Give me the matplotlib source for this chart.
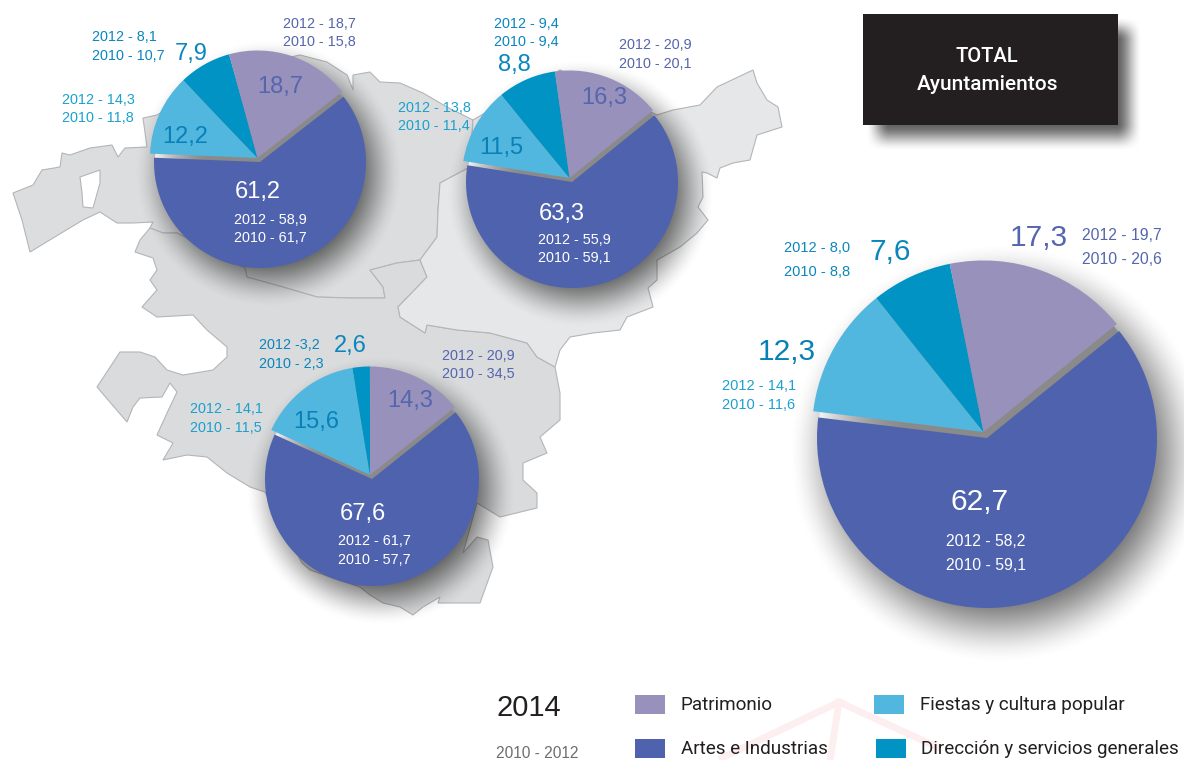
import numpy as np
import matplotlib
matplotlib.use('Agg')
import matplotlib.pyplot as plt
from matplotlib.patches import Polygon, Rectangle, Circle

W, H = 1184, 760

# datos: orden artes, fiestas, direccion, patrimonio
categorias = ['Artes e Industrias', 'Fiestas y cultura popular', 'Dirección y servicios generales', 'Patrimonio']
colores = ['#4f62ae', '#52b7de', '#0093c4', '#9891bb']

bizkaia = [61.2, 12.2, 7.9, 18.7]
gipuzkoa = [63.3, 11.5, 8.8, 16.3]
alava = [67.6, 15.6, 2.6, 14.3]
total = [62.7, 12.3, 7.6, 17.3]

bizkaia_txt = ['61,2', '12,2', '7,9', '18,7']
gipuzkoa_txt = ['63,3', '11,5', '8,8', '16,3']
alava_txt = ['67,6', '15,6', '2,6', '14,3']
total_txt = ['62,7', '12,3', '7,6', '17,3']

bizkaia_prev = [('2012 - 58,9', '2010 - 61,7'), ('2012 - 14,3', '2010 - 11,8'),
                ('2012 - 8,1', '2010 - 10,7'), ('2012 - 18,7', '2010 - 15,8')]
gipuzkoa_prev = [('2012 - 55,9', '2010 - 59,1'), ('2012 - 13,8', '2010 - 11,4'),
                 ('2012 - 9,4', '2010 - 9,4'), ('2012 - 20,9', '2010 - 20,1')]
alava_prev = [('2012 - 61,7', '2010 - 57,7'), ('2012 - 14,1', '2010 - 11,5'),
              ('2012 -3,2', '2010 - 2,3'), ('2012 - 20,9', '2010 - 34,5')]
total_prev = [('2012 - 58,2', '2010 - 59,1'), ('2012 - 14,1', '2010 - 11,6'),
              ('2012 - 8,0', '2010 - 8,8'), ('2012 - 19,7', '2010 - 20,6')]

NARROW = ['Roboto', 'Liberation Sans', 'DejaVu Sans']
plt.rcParams['font.family'] = ['Liberation Sans', 'DejaVu Sans']

fig = plt.figure(figsize=(W / 100, H / 100), dpi=100, facecolor='white')
ax = fig.add_axes([0, 0, 1, 1])


def fy(p):
    return H - p


def poly(puntos, color, z=1):
    xy = [(x, fy(y)) for x, y in puntos]
    ax.add_patch(Polygon(xy, closed=True, facecolor=color, edgecolor='#b4b5b7', lw=0.8, zorder=z))


# mapa de fondo
poly([(13, 193), (33, 185), (42, 170), (60, 167), (62, 153), (70, 155), (90, 148), (112, 145), (118, 157),
      (125, 148), (147, 147), (143, 118), (157, 115), (230, 70), (300, 55), (327, 62), (347, 75), (353, 90),
      (353, 75), (370, 72), (380, 82), (400, 83), (423, 93), (447, 107), (473, 120), (470, 167), (440, 183),
      (438, 210), (437, 237), (420, 260), (397, 263), (370, 270), (383, 287), (385, 298), (350, 298),
      (317, 297), (283, 287), (247, 277), (245, 268), (177, 233), (163, 233), (150, 228), (153, 222),
      (133, 223), (117, 223), (100, 212), (83, 220), (63, 232), (30, 252), (22, 220)], '#dcddde')
poly([(80, 177), (100, 170), (100, 183), (93, 208), (83, 207), (82, 193)], 'white', z=2)
poly([(150, 228), (140, 240), (135, 252), (153, 258), (157, 270), (150, 280), (157, 290), (142, 307),
      (157, 317), (193, 315), (207, 330), (227, 347), (227, 357), (213, 370), (183, 375), (167, 370),
      (155, 357), (140, 352), (120, 352), (97, 387), (127, 422), (133, 407), (140, 398), (162, 397),
      (170, 383), (177, 392), (167, 413), (157, 435), (173, 443), (163, 460), (187, 455), (207, 457),
      (227, 473), (250, 487), (265, 492), (302, 563), (310, 570), (360, 587), (370, 595), (383, 603),
      (400, 607), (413, 615), (423, 607), (440, 597), (438, 603), (480, 603), (493, 567), (488, 540),
      (477, 537), (463, 553), (477, 503), (500, 517), (537, 508), (537, 493), (523, 480), (523, 463),
      (547, 453), (540, 437), (560, 420), (560, 393), (555, 367), (537, 357), (527, 343), (490, 333),
      (457, 330), (427, 325), (425, 333), (400, 317), (398, 307), (427, 277), (420, 260), (397, 263),
      (370, 270), (383, 287), (385, 298), (350, 298), (317, 297), (283, 287), (247, 277), (245, 268),
      (177, 233), (163, 233)], '#dadbdc')
poly([(420, 260), (437, 237), (438, 210), (440, 183), (470, 167), (473, 120), (560, 70), (657, 115),
      (673, 110), (700, 105), (717, 87), (753, 70), (757, 83), (767, 100), (778, 107), (782, 127),
      (757, 135), (750, 160), (733, 163), (720, 168), (717, 178), (707, 173), (702, 172), (703, 197),
      (698, 207), (708, 220), (697, 233), (680, 247), (657, 260), (657, 280), (648, 288), (653, 307),
      (627, 317), (620, 330), (593, 333), (570, 337), (560, 350), (555, 367), (537, 357), (527, 343),
      (490, 333), (457, 330), (427, 325), (425, 333), (400, 317), (398, 307), (427, 277)], '#e6e7e8', z=2)

# marca de agua junto a la leyenda
ax.plot([722, 839, 937], [fy(758), fy(702), fy(747)], color='#fdeff0', lw=5, zorder=1)
ax.plot([839, 830], [fy(702), fy(760)], color='#fdeff0', lw=5, zorder=1)

# geometria de cada tarta: centro, radio, angulo inicial, desplazamiento del grupo
tartas = [
    (bizkaia, (260, 162), 106, 38, (-2.5, -4)),
    (gipuzkoa, (572, 182), 106, 39, (-2.5, -4)),
    (alava, (372, 479), 107, 38.6, (-2, -4)),
    (total, (987, 438), 170, 39, (-3.5, -6)),
]

# sombras
yy, xx = np.mgrid[0:H, 0:W]
alfa = np.zeros((H, W))


def suave(t):
    t = np.clip(t, 0, 1)
    return t * t * (3 - 2 * t)


for _, (cx, cy), r, _, _ in tartas:
    off = r * 0.05 + 3
    soft = r * 0.20 + 8
    d = np.hypot(xx - cx - off, yy - cy - off * 1.3)
    a = 0.62 * suave((r + soft - d) / (2 * soft))
    alfa = 1 - (1 - alfa) * (1 - a)
# sombra del recuadro
bx0, bx1, by0, by1 = 863, 1118, 14, 125
a = 0.62 * suave((bx1 + 24 - xx) / 26) * suave((xx - bx0 - 2) / 24) * suave((by1 + 26 - yy) / 28) * suave((yy - by0 - 2) / 24)
alfa = 1 - (1 - alfa) * (1 - a)
sombra = np.zeros((H, W, 4))
sombra[..., 3] = alfa
ax.imshow(sombra, extent=(0, W, 0, H), origin='upper', zorder=3, aspect='auto', interpolation='bilinear')

# tartas
for valores, (cx, cy), r, ini, (dx, dy) in tartas:
    # disco gris bajo las cuñas, se ve en las separaciones
    n = 2 * r
    gy, gx = np.mgrid[-r:r:complex(0, n), -r:r:complex(0, n)]
    t = np.clip(np.hypot(gx, gy) / r, 0, 1)
    lado = np.clip(0.5 - gx / r, 0, 1)
    gris = 0.54 + 0.42 * lado * np.clip((t - 0.45) / 0.55, 0, 1) ** 2
    im = ax.imshow(gris, cmap='gray', vmin=0, vmax=1, extent=(cx - r, cx + r, fy(cy + r), fy(cy - r)),
                   zorder=4, aspect='auto')
    im.set_clip_path(Circle((cx, fy(cy)), r - 1, transform=ax.transData))

    sep = 0.022
    wedges, _ = ax.pie(valores, colors=colores, startangle=ini, counterclock=False, radius=r,
                       center=(cx, fy(cy)), frame=True, explode=[0, sep, sep, sep],
                       wedgeprops={'linewidth': 0, 'zorder': 5})
    for w in wedges[1:]:
        xc, yc = w.center
        w.set_center((xc + dx, yc - dy))
        w.set_radius(r + 1.5)
    wedges[0].set_zorder(6)


def txt(x, y, s, color, size, ha='left', family=None, weight='normal'):
    ax.text(x, fy(y), s, color=color, fontsize=size, ha=ha, va='center', zorder=8, fontweight=weight,
            family=family if family else ['Liberation Sans', 'DejaVu Sans'])


C_ART = '#ffffff'
C_PAT = '#5565ae'
C_FIE = '#1ba1cf'
C_DIR = '#0a86bd'
C_FIE_BIG = '#0a80b8'

# posiciones de etiquetas: (xgrande, ygrande), (xpeq, y1, y2) en orden artes, fiestas, direccion, patrimonio
pos_bizkaia = [((258, 192), (234, 220, 238)), ((185, 137), (62, 100, 118)), ((191, 54), (92, 37, 56)), ((280, 87), (283, 24, 42))]
pos_gipuzkoa = [((562, 214), (538, 240, 258)), ((501, 148), (398, 108, 126)), ((514, 65), (494, 24, 42)), ((604, 98), (619, 45, 64))]
pos_alava = [((363, 514), (338, 541, 560)), ((316, 422), (190, 409, 428)), ((350, 346), (259, 345, 364)), ((410, 401), (442, 356, 374))]
pos_total = [((980, 502), (946, 542, 566)), ((787, 352), (722, 386, 405)), ((890, 252), (784, 248, 272)), ((1039, 238), (1082, 235, 260))]

tabla = [
    (bizkaia_txt, bizkaia_prev, pos_bizkaia, 17, [10.4, 10.4, 10.4, 10.4]),
    (gipuzkoa_txt, gipuzkoa_prev, pos_gipuzkoa, 17, [10.4, 10.4, 10.4, 10.4]),
    (alava_txt, alava_prev, pos_alava, 17, [10.4, 10.4, 10.4, 10.4]),
    (total_txt, total_prev, pos_total, 21.5, [11.3, 10.5, 10.5, 11.3]),
]
for grandes, previos, posiciones, s_big, s_small in tabla:
    for i in range(4):
        (xb, yb), (xp, y1, y2) = posiciones[i]
        color_big = ['#ffffff', C_FIE_BIG, C_DIR, C_PAT][i]
        color_small = [C_ART, C_FIE, C_DIR, C_PAT][i]
        txt(xb, yb, grandes[i], color_big, s_big, ha='center')
        txt(xp, y1, previos[i][0], color_small, s_small[i])
        txt(xp, y2, previos[i][1], color_small, s_small[i])

# recuadro TOTAL
ax.add_patch(Rectangle((bx0, fy(by1)), bx1 - bx0, by1 - by0, facecolor='#231f20', edgecolor='none', zorder=7))
txt(987, 57, 'TOTAL', 'white', 14.5, ha='center', family=NARROW, weight='medium')
txt(988, 85, 'Ayuntamientos', 'white', 15, ha='center', family=NARROW, weight='medium')

# leyenda
txt(496, 708, '2014', '#231f20', 21)
txt(496, 753, '2010 - 2012', '#6d6e71', 11.2)
ley_pos = [(635, 739, 681), (874, 695, 920), (876, 739, 921), (635, 695, 681)]
for (lx, ly, tx), nombre, col in zip(ley_pos, categorias, colores):
    ax.add_patch(Rectangle((lx, fy(ly + 19)), 30, 19, facecolor=col, edgecolor='none', zorder=7))
    txt(tx, ly + 9.5, nombre, '#231f20', 13.6, family=NARROW)

ax.set_xlim(0, W)
ax.set_ylim(0, H)
ax.axis('off')
fig.savefig('out.png', dpi=100, facecolor='white')
